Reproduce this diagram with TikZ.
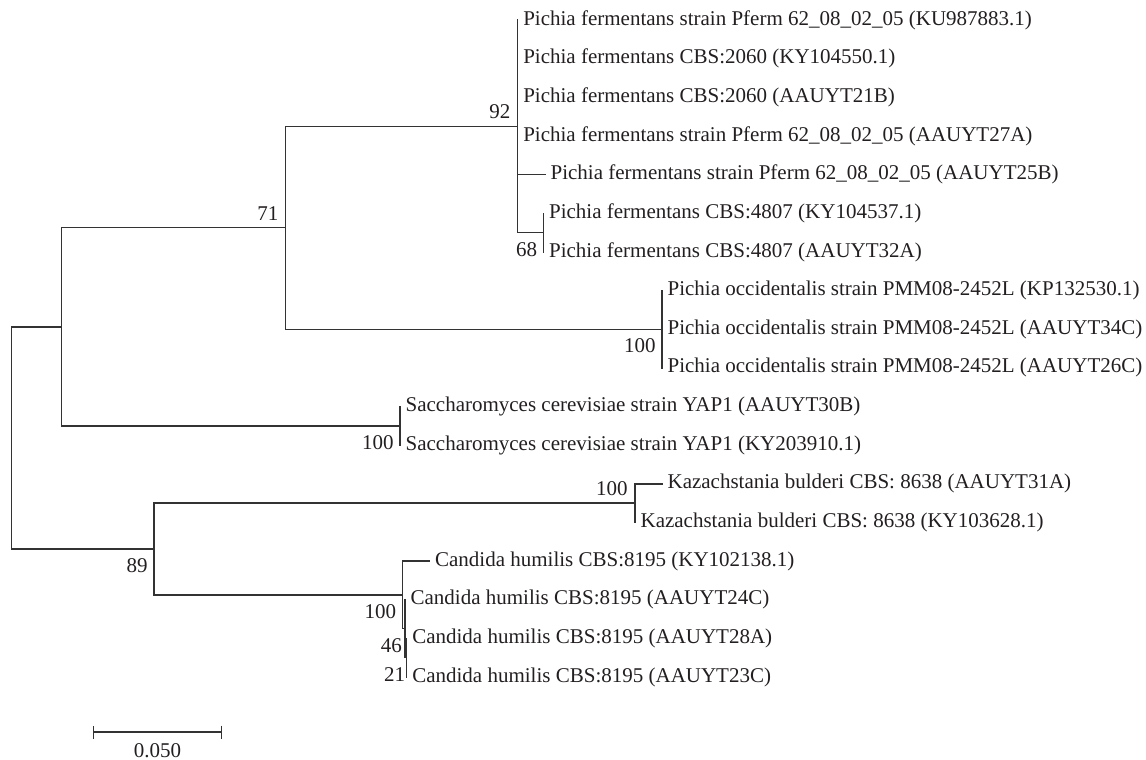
\documentclass[tikz,border=0pt]{standalone}
\usepackage{fontspec}
\setmainfont{Liberation Serif}
\usepackage{xcolor}
\usetikzlibrary{arrows, arrows.meta}
\usetikzlibrary{positioning}
\usetikzlibrary{calc}
\definecolor{treeline}{HTML}{333333}
\definecolor{treetext}{HTML}{231F20}
\newcommand{\treefont}{\fontsize{10.5pt}{12pt}\selectfont}

\begin{document}
\begin{tikzpicture}[x=0.5pt, y=-0.5pt,
		branch/.style={line width=0.7pt, treeline, line cap=rect},
		taxon/.style={inner xsep=2.6pt, inner ysep=0pt, text=treetext, font=\treefont},
		bootabove/.style={anchor=south east, inner sep=0pt, xshift=-3.5pt, yshift=3.5pt, text=treetext, font=\treefont},
		bootbelow/.style={anchor=north east, inner sep=0pt, xshift=-3pt, yshift=-4.6pt, text=treetext, font=\treefont}]
				\useasboundingbox (0,0) rectangle (1146,760);
				% internal nodes
				\coordinate (root) at (11.7,437.9);
				\coordinate (nA) at (61.7,326.8);
				\coordinate (nB) at (285.7,227.7);
				\coordinate (n92) at (517.7,126.3);
				\coordinate (n68) at (543.5,232.6);
				\coordinate (nocc) at (662,329.2);
				\coordinate (nsac) at (400,425.8);
				\coordinate (n89) at (154,549);
				\coordinate (nkaz) at (635,503.1);
				\coordinate (ncan) at (402.5,594.9);
				\coordinate (n46) at (405,628.7);
				\coordinate (n21) at (406.7,657.7);
				% leaf tips
				\coordinate (t0) at (517.7,20);
				\coordinate (t1) at (517.7,58.65);
				\coordinate (t2) at (517.7,97.3);
				\coordinate (t3) at (517.7,135.95);
				\coordinate (t4) at (545,174.6);
				\coordinate (t5) at (543.5,213.25);
				\coordinate (t6) at (543.5,251.9);
				\coordinate (t7) at (662,290.55);
				\coordinate (t8) at (662,329.2);
				\coordinate (t9) at (662,367.85);
				\coordinate (t10) at (400,406.5);
				\coordinate (t11) at (400,445.15);
				\coordinate (t12) at (662,483.8);
				\coordinate (t13) at (635,522.45);
				\coordinate (t14) at (429.5,561.1);
				\coordinate (t15) at (405,599.75);
				\coordinate (t16) at (406.7,638.4);
				\coordinate (t17) at (406.7,677.05);
				
				% draw branches
				\draw[branch] (root) |- (nA);
				\draw[branch] (root) |- (n89);
				\draw[branch] (nA) |- (nB);
				\draw[branch] (nA) |- (nsac);
				\draw[branch] (nB) |- (n92);
				\draw[branch] (nB) |- (nocc);
				\draw[branch] (n92) |- (t0);
				\draw[branch] (n92) |- (t1);
				\draw[branch] (n92) |- (t2);
				\draw[branch] (n92) |- (t3);
				\draw[branch] (n92) |- (t4);
				\draw[branch] (n92) |- (n68);
				\draw[branch] (n68) |- (t5);
				\draw[branch] (n68) |- (t6);
				\draw[branch] (nocc) |- (t7);
				\draw[branch] (nocc) |- (t8);
				\draw[branch] (nocc) |- (t9);
				\draw[branch] (nsac) |- (t10);
				\draw[branch] (nsac) |- (t11);
				\draw[branch] (n89) |- (nkaz);
				\draw[branch] (n89) |- (ncan);
				\draw[branch] (nkaz) |- (t12);
				\draw[branch] (nkaz) |- (t13);
				\draw[branch] (ncan) |- (t14);
				\draw[branch] (ncan) |- (n46);
				\draw[branch] (n46) |- (t15);
				\draw[branch] (n46) |- (n21);
				\draw[branch] (n21) |- (t16);
				\draw[branch] (n21) |- (t17);
				
				% taxa names
				\node[taxon, right=0pt of t0] (s0) {Pichia fermentans strain Pferm 62\_08\_02\_05 (KU987883.1)};
				\node[taxon, right=0pt of t1] (s1) {Pichia fermentans CBS:2060 (KY104550.1)};
				\node[taxon, right=0pt of t2] (s2) {Pichia fermentans CBS:2060 (AAUYT21B)};
				\node[taxon, right=0pt of t3] (s3) {Pichia fermentans strain Pferm 62\_08\_02\_05 (AAUYT27A)};
				\node[taxon, right=0pt of t4] (s4) {Pichia fermentans strain Pferm 62\_08\_02\_05 (AAUYT25B)};
				\node[taxon, right=0pt of t5] (s5) {Pichia fermentans CBS:4807 (KY104537.1)};
				\node[taxon, right=0pt of t6] (s6) {Pichia fermentans CBS:4807 (AAUYT32A)};
				\node[taxon, right=0pt of t7] (s7) {Pichia occidentalis strain PMM08-2452L (KP132530.1)};
				\node[taxon, right=0pt of t8] (s8) {Pichia occidentalis strain PMM08-2452L (AAUYT34C)};
				\node[taxon, right=0pt of t9] (s9) {Pichia occidentalis strain PMM08-2452L (AAUYT26C)};
				\node[taxon, right=0pt of t10] (s10) {Saccharomyces cerevisiae strain YAP1 (AAUYT30B)};
				\node[taxon, right=0pt of t11] (s11) {Saccharomyces cerevisiae strain YAP1 (KY203910.1)};
				\node[taxon, right=0pt of t12] (s12) {Kazachstania bulderi CBS: 8638 (AAUYT31A)};
				\node[taxon, right=0pt of t13] (s13) {Kazachstania bulderi CBS: 8638 (KY103628.1)};
				\node[taxon, right=0pt of t14] (s14) {Candida humilis CBS:8195 (KY102138.1)};
				\node[taxon, right=0pt of t15] (s15) {Candida humilis CBS:8195 (AAUYT24C)};
				\node[taxon, right=0pt of t16] (s16) {Candida humilis CBS:8195 (AAUYT28A)};
				\node[taxon, right=0pt of t17] (s17) {Candida humilis CBS:8195 (AAUYT23C)};
				
				% bootstrap values
				\node[bootabove] (b71) at (nB) {71};
				\node[bootabove] (b92) at (n92) {92};
				\node[bootbelow] (b68) at (n68) {68};
				\node[bootbelow] (bocc) at (nocc) {100};
				\node[bootbelow] (bsac) at (nsac) {100};
				\node[bootabove] (bkaz) at (nkaz) {100};
				\node[bootbelow] (b89) at (n89) {89};
				\node[bootbelow] (bcan) at (ncan) {100};
				\node[bootbelow, xshift=1.6pt] (b46) at (n46) {46};
				\node[bootbelow, xshift=2.4pt] (b21) at (n21) {21};
				
				% scale bar
				\coordinate (bar0) at (92.7,732);
				\coordinate (bar1) at (222.3,732);
				\draw[branch, line cap=butt, {Bar[width=6.5pt]}-{Bar[width=6.5pt]}] (bar0) -- (bar1);
				\node[taxon, below=5.5pt of $(bar0)!0.5!(bar1)$] (barlabel) {0.050};
			\end{tikzpicture}
\end{document}
